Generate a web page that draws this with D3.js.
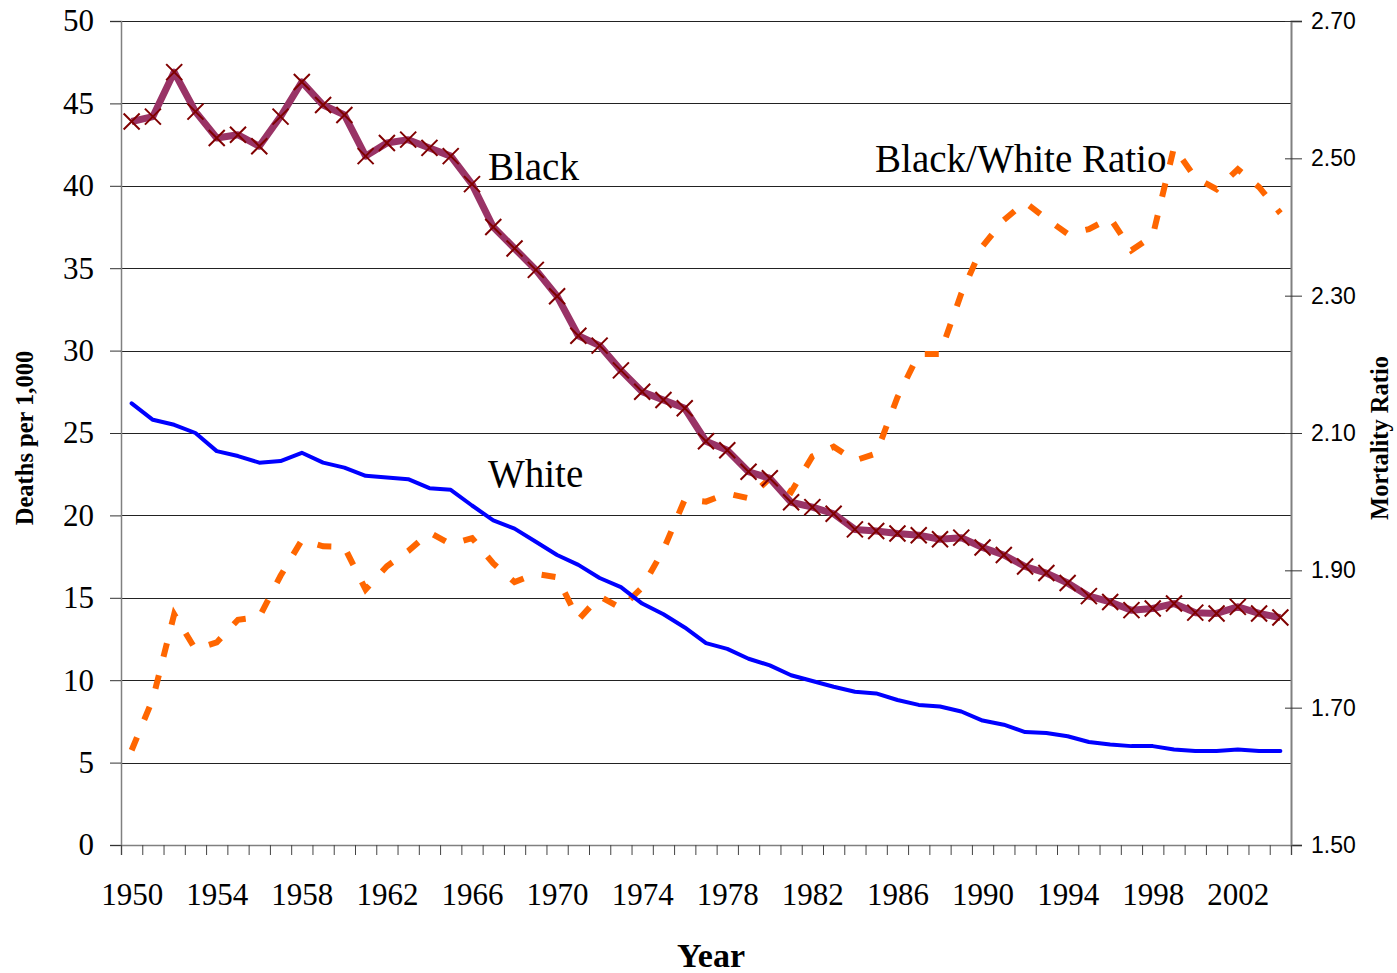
<!DOCTYPE html>
<html><head><meta charset="utf-8">
<script src="https://cdn.jsdelivr.net/npm/d3@7"></script>
<style>html,body{margin:0;padding:0;background:#fff;}svg{display:block;}</style>
</head><body>
<script>
const years = d3.range(1950, 2005);
const blackRates = [43.9,44.2,46.9,44.5,42.9,43.1,42.4,44.2,46.3,44.9,
  44.3,41.8,42.6,42.8,42.3,41.8,40.1,37.5,36.2,34.9,
  33.3,30.9,30.3,28.8,27.5,27.0,26.5,24.5,23.95,22.65,
  22.25,20.8,20.5,20.1,19.15,19.05,18.9,18.8,18.55,18.65,
  18.05,17.6,16.9,16.5,15.9,15.1,14.75,14.25,14.35,14.65,
  14.1,14.05,14.45,14.05,13.8];
const whiteRates = [26.8,25.8,25.5,25.0,23.9,23.6,23.2,23.3,23.8,23.2,
  22.9,22.4,22.3,22.2,21.65,21.55,20.6,19.7,19.2,18.4,
  17.6,17.0,16.2,15.65,14.65,14.0,13.2,12.25,11.9,11.3,
  10.9,10.3,9.95,9.6,9.3,9.2,8.8,8.5,8.4,8.1,
  7.55,7.3,6.85,6.8,6.6,6.25,6.1,6.0,6.0,5.8,
  5.7,5.7,5.8,5.7,5.7];
const ratioValues = [1.638,1.713,1.836,1.785,1.795,1.828,1.832,1.892,1.944,1.935,
  1.934,1.872,1.906,1.928,1.955,1.938,1.947,1.910,1.883,1.895,
  1.890,1.828,1.862,1.845,1.875,1.930,2.003,2.000,2.012,2.005,
  2.034,2.014,2.066,2.080,2.060,2.070,2.152,2.215,2.215,2.303,
  2.372,2.410,2.436,2.412,2.390,2.397,2.413,2.366,2.387,2.516,
  2.472,2.455,2.484,2.458,2.420];
const leftTicks = [0,5,10,15,20,25,30,35,40,45,50];
const rightTicks = [1.50,1.70,1.90,2.10,2.30,2.50,2.70];
const xLabelYears = d3.range(1950, 2004, 4);
const seriesLabels = [
  {text:"Black", year:1966.75, value:40.35},
  {text:"White", year:1966.75, value:21.72},
  {text:"Black/White Ratio", year:1984.95, value:40.84}
];

const W = 1397, H = 973;
const L = 121, R = 1291, T = 21, B = 845;
const svg = d3.select("body").append("svg").attr("width", W).attr("height", H);

const x = d3.scaleLinear().domain([1949.5, 2004.5]).range([L, R]);
const y = d3.scaleLinear().domain([0, 50]).range([B, T]);
const y2 = d3.scaleLinear().domain([1.5, 2.7]).range([B, T]);

// gridlines
svg.append("g").selectAll("line").data(leftTicks.filter(d => d > 0)).join("line")
  .attr("x1", L).attr("x2", R)
  .attr("y1", d => Math.round(y(d)) + 0.5).attr("y2", d => Math.round(y(d)) + 0.5)
  .attr("stroke", "#222").attr("stroke-width", 1);

// left axis
const gl = svg.append("g").attr("transform", `translate(${L},0)`)
  .call(d3.axisLeft(y).tickValues(leftTicks).tickSize(11).tickPadding(16).tickFormat(d3.format("d")));
gl.select(".domain").attr("stroke", "#808080").attr("stroke-width", 1.5);
gl.selectAll(".tick line").attr("stroke", "#333");
gl.selectAll("text").attr("font-family", "Liberation Serif").attr("font-size", 31).attr("fill", "#000");

// right axis
const gr = svg.append("g").attr("transform", `translate(${R},0)`)
  .call(d3.axisRight(y2).tickValues(rightTicks).tickSize(11).tickPadding(9).tickFormat(d3.format(".2f")));
gr.select(".domain").attr("stroke", "#808080").attr("stroke-width", 2);
gr.selectAll(".tick line").attr("stroke", "#333").attr("x1", -6);
gr.selectAll("text").attr("font-family", "Liberation Sans").attr("font-size", 23).attr("fill", "#000");

// bottom axis: ticks at category boundaries
const gb = svg.append("g").attr("transform", `translate(0,${B})`)
  .call(d3.axisBottom(x).tickValues(d3.range(1949.5, 2005, 1)).tickSize(10).tickFormat(""));
gb.select(".domain").attr("stroke", "#808080").attr("stroke-width", 1.5);
gb.selectAll(".tick line").attr("stroke", "#444");
const gbl = svg.append("g").attr("transform", `translate(0,${B})`)
  .call(d3.axisBottom(x).tickValues(xLabelYears).tickSize(0).tickPadding(38).tickFormat(d3.format("d")));
gbl.select(".domain").remove();
gbl.selectAll("text").attr("font-family", "Liberation Serif").attr("font-size", 31).attr("fill", "#000");

// axis titles
svg.append("text").attr("transform", "translate(33,438) rotate(-90)")
  .attr("text-anchor", "middle").attr("font-family", "Liberation Serif").attr("font-weight", "bold")
  .attr("font-size", 24.5).text("Deaths per 1,000");
svg.append("text").attr("transform", "translate(1388,438) rotate(-90)")
  .attr("text-anchor", "middle").attr("font-family", "Liberation Serif").attr("font-weight", "bold")
  .attr("font-size", 24.5).text("Mortality Ratio");
svg.append("text").attr("x", 711).attr("y", 967)
  .attr("text-anchor", "middle").attr("font-family", "Liberation Serif").attr("font-weight", "bold")
  .attr("font-size", 34).text("Year");

// ratio (dashed, right axis)
const ratioData = years.map((yr, i) => ({yr, v: ratioValues[i]}));
svg.append("path").datum(ratioData)
  .attr("d", d3.line().x(d => x(d.yr)).y(d => y2(d.v)))
  .attr("fill", "none").attr("stroke", "#FF6600").attr("stroke-width", 6)
  .attr("stroke-dasharray", "14,19").attr("stroke-linejoin", "miter");

// white
const whiteData = years.map((yr, i) => ({yr, v: whiteRates[i]}));
svg.append("path").datum(whiteData)
  .attr("d", d3.line().x(d => x(d.yr)).y(d => y(d.v)))
  .attr("fill", "none").attr("stroke", "#0000FF").attr("stroke-width", 4)
  .attr("stroke-linejoin", "round").attr("stroke-linecap", "round");

// black
const blackData = years.map((yr, i) => ({yr, v: blackRates[i]}));
svg.append("path").datum(blackData)
  .attr("d", d3.line().x(d => x(d.yr)).y(d => y(d.v)))
  .attr("fill", "none").attr("stroke", "#993366").attr("stroke-width", 7)
  .attr("stroke-linejoin", "round");
svg.append("g").selectAll("path").data(blackData).join("path")
  .attr("transform", d => `translate(${x(d.yr)},${y(d.v)})`)
  .attr("d", "M-8,-8L8,8M-8,8L8,-8")
  .attr("stroke", "#800000").attr("stroke-width", 2).attr("fill", "none");

// series labels
svg.append("g").selectAll("text").data(seriesLabels).join("text")
  .attr("x", d => x(d.year)).attr("y", d => y(d.value))
  .attr("font-family", "Liberation Serif").attr("font-size", 39).attr("fill", "#000")
  .text(d => d.text);
</script>
</body></html>
